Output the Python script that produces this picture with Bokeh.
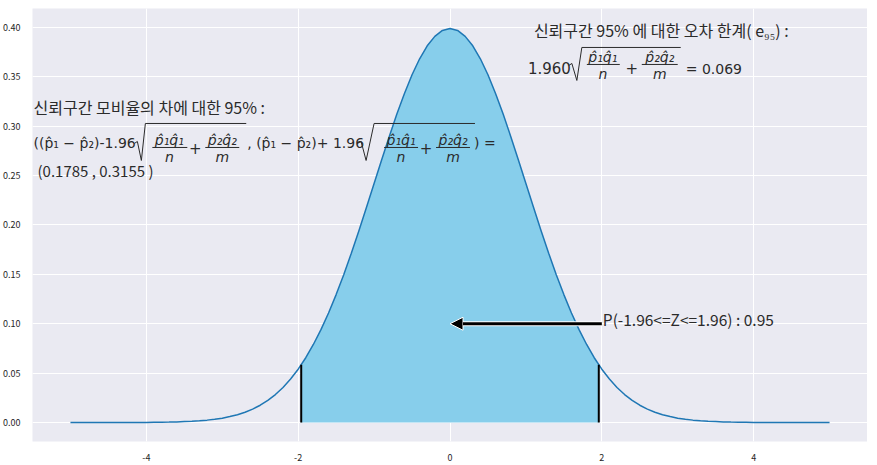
import numpy as np
from bokeh.plotting import figure
from bokeh.models import Range1d, FixedTicker, NumeralTickFormatter, PrintfTickFormatter, Arrow, NormalHead
from bokeh.core.properties import value
from bokeh.embed import file_html
from bokeh.resources import INLINE

# ---- data: standard normal density ----
x_tail_left = [-5.0, -4.5]
x_core = np.round(np.arange(-4.0, 4.0001, 0.1), 1).tolist()
x_tail_right = [4.5, 5.0]
xs = x_tail_left + x_core + x_tail_right
ys = [0.0000, 0.0000,
      0.0001, 0.0002, 0.0003, 0.0004, 0.0006, 0.0009, 0.0012, 0.0017, 0.0024, 0.0033,
      0.0044, 0.0060, 0.0079, 0.0104, 0.0136, 0.0175, 0.0224, 0.0283, 0.0355, 0.0440,
      0.0540, 0.0656, 0.0790, 0.0940, 0.1109, 0.1295, 0.1497, 0.1714, 0.1942, 0.2179,
      0.2420, 0.2661, 0.2897, 0.3123, 0.3332, 0.3521, 0.3683, 0.3814, 0.3910, 0.3970,
      0.3989,
      0.3970, 0.3910, 0.3814, 0.3683, 0.3521, 0.3332, 0.3123, 0.2897, 0.2661, 0.2420,
      0.2179, 0.1942, 0.1714, 0.1497, 0.1295, 0.1109, 0.0940, 0.0790, 0.0656, 0.0540,
      0.0440, 0.0355, 0.0283, 0.0224, 0.0175, 0.0136, 0.0104, 0.0079, 0.0060, 0.0044,
      0.0033, 0.0024, 0.0017, 0.0012, 0.0009, 0.0006, 0.0004, 0.0003, 0.0002, 0.0001,
      0.0000, 0.0000]
z_lo, z_hi = -1.96, 1.96
pdf_at_z = 0.0584
arrow_from, arrow_to, arrow_y = 2.0, 0.0, 0.1
x_ticks = [-4, -2, 0, 2, 4]
y_ticks = [0.0, 0.05, 0.10, 0.15, 0.20, 0.25, 0.30, 0.35, 0.40]

# ---- figure ----
p = figure(frame_width=835, frame_height=433, output_backend="svg", toolbar_location=None,
           x_range=Range1d(-5.5, 5.5), y_range=Range1d(-0.01924, 0.4192),
           min_border_left=26, min_border_right=0, min_border_top=8, min_border_bottom=16)
p.background_fill_color = "#EAEAF2"
p.border_fill_color = "white"
p.outline_line_color = None
for ax in (p.xaxis, p.yaxis):
    ax.axis_line_color = None
    ax.major_tick_line_color = None
    ax.minor_tick_line_color = None
    ax.major_label_text_font = "Noto Sans CJK KR"
    ax.major_label_text_font_size = "9px"
    ax.major_label_text_color = "#262626"
    ax.major_label_standoff = 6
p.xaxis.ticker = FixedTicker(ticks=x_ticks)
p.xaxis.formatter = PrintfTickFormatter(format="%d")
p.yaxis.ticker = FixedTicker(ticks=y_ticks)
p.yaxis.formatter = NumeralTickFormatter(format="0.00")
p.grid.grid_line_color = "white"
p.grid.grid_line_width = 1
p.xgrid.ticker = FixedTicker(ticks=x_ticks)
p.ygrid.ticker = FixedTicker(ticks=y_ticks)

xa = np.array(xs); ya = np.array(ys)
m = (xa > z_lo) & (xa < z_hi)
fx = [z_lo] + xa[m].tolist() + [z_hi]
fy = [pdf_at_z] + ya[m].tolist() + [pdf_at_z]
p.varea(x=fx, y1=[0] * len(fx), y2=fy, fill_color="#87CEEB")
p.line(xs, ys, line_color="#1f77b4", line_width=1.5)
p.segment(x0=[z_lo, z_hi], y0=[0, 0], x1=[z_lo, z_hi], y1=[pdf_at_z, pdf_at_z],
          line_color="black", line_width=2)

# arrow (white edge + black body)
p.add_layout(Arrow(end=None, x_start=arrow_from, y_start=arrow_y, x_end=arrow_to + 0.1,
                   y_end=arrow_y, line_color="white", line_width=5))
p.add_layout(Arrow(end=NormalHead(size=13, fill_color="black", line_color="white", line_width=1),
                   x_start=arrow_from, y_start=arrow_y, x_end=arrow_to, y_end=arrow_y,
                   line_color="black", line_width=3))

# ---- annotation helpers (page pixel -> data) ----
def X(px):
    return (px - 451) / 76.0

def Y(py):
    return (422 - py) / 987.5

KR = "Noto Sans CJK KR"
MATH = "DejaVu Sans"
TC = "#2b2b2b"

def txt(px, py, s, size="15px", font=KR, align="left", style="normal"):
    p.text(x=[X(px)], y=[Y(py)], text=[s], text_font=value(font), text_font_size=size,
           text_align=align, text_baseline="middle", text_color=TC, text_font_style=style)

def path(pts, w=1.0):
    p.line([X(a) for a, b in pts], [Y(b) for a, b in pts], line_color=TC, line_width=w)

def frac(cx, x0, x1, ybar, num, den, dy_num=7, dy_den=10, size="14px"):
    txt(cx, ybar - dy_num, num, size=size, font=MATH, align="center", style="italic")
    txt(cx, ybar + dy_den, den, size=size, font=MATH, align="center", style="italic")
    path([(x0, ybar), (x1, ybar)])

num1 = "p\u0302\u2081q\u0302\u2081"
num2 = "p\u0302\u2082q\u0302\u2082"

# top-right block
txt(535, 30, "신뢰구간 95% 에 대한 오차 한계( e\u2089\u2085) :", size="16px")
txt(529, 68, "1.960", size="15px", font=MATH)
path([(570, 65), (573, 63), (578, 80), (583, 47), (682, 47)])
frac(604, 588, 621, 64, num1, "n")
txt(633, 68, "+", size="15px", font=MATH, align="center")
frac(661, 643, 679, 64, num2, "m")
txt(687, 69, "= 0.069", size="14px", font=MATH)

# left block
txt(34, 107, "신뢰구간 모비율의 차에 대한 95% :", size="16px")
txt(34, 143, "((p\u0302\u2081 \u2212 p\u0302\u2082)-1.96", size="14px", font=MATH)
path([(135, 143), (138, 141), (142, 160), (146, 123), (247, 123)])
frac(170, 153, 188, 147, num1, "n")
txt(196, 148, "+", size="15px", font=MATH, align="center")
frac(223, 206, 240, 147, num2, "m")
txt(248, 143, ", (p\u0302\u2081 \u2212 p\u0302\u2082)+ 1.96", size="14px", font=MATH)
path([(358, 143), (362, 141), (367, 160), (375, 123), (476, 123)])
frac(402, 385, 419, 147, num1, "n")
txt(427, 148, "+", size="15px", font=MATH, align="center")
frac(454, 437, 471, 147, num2, "m")
txt(475, 143, ") =", size="14px", font=MATH)
txt(38, 170, "(0.1785 , 0.3155 )", size="15px")

txt(604, 319, "P(-1.96<=Z<=1.96) : 0.95", size="15.5px")

open("out.html", "w").write(file_html(p, INLINE))
